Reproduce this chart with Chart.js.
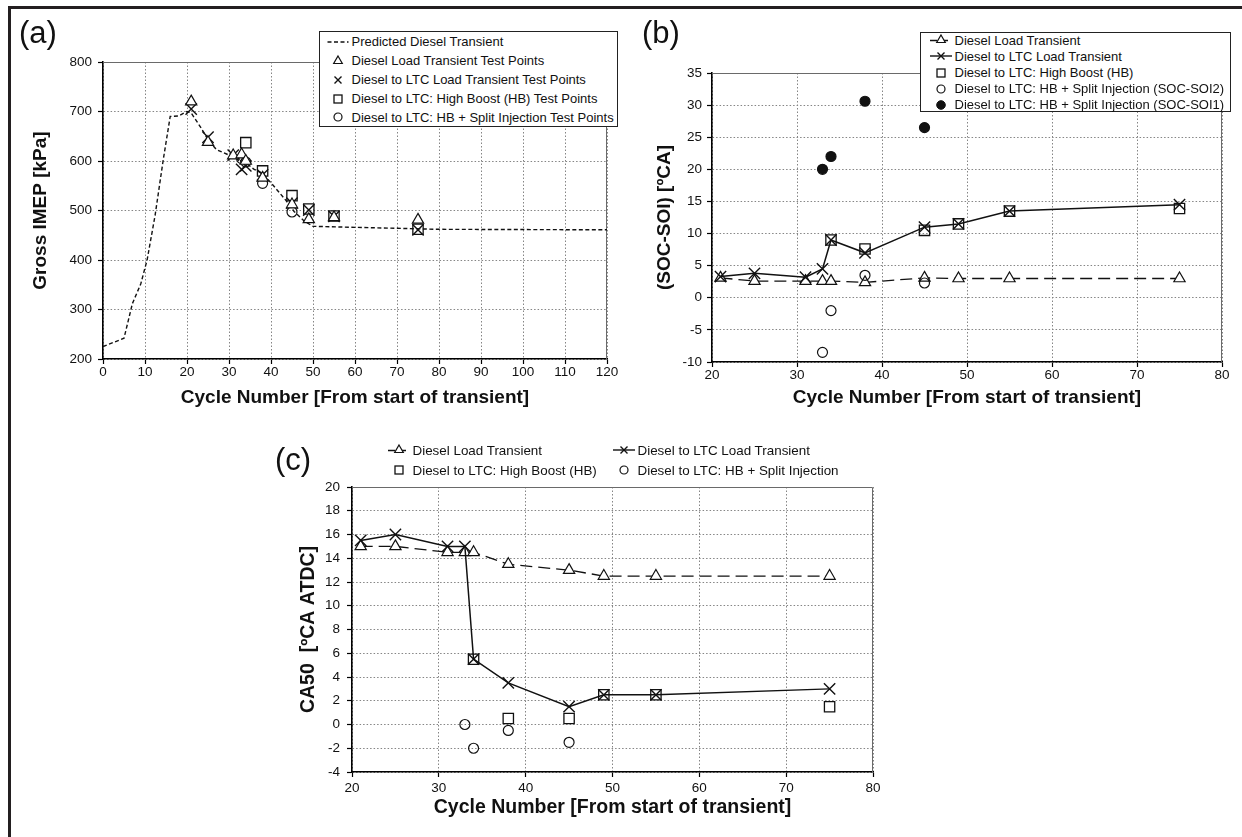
<!DOCTYPE html>
<html>
<head>
<meta charset="utf-8">
<script src="https://cdn.jsdelivr.net/npm/chart.js@4.4.1/dist/chart.umd.min.js"></script>
<style>
  body { margin: 0; background: #fff; font-family: "Liberation Sans", Arial, sans-serif; }
  #page { position: relative; width: 1242px; height: 837px; overflow: hidden; background: #fff; }
  #frame { position: absolute; left: 8px; top: 6px; width: 1240px; height: 840px;
           border-top: 3px solid #231f20; border-left: 3px solid #231f20; }
  canvas { position: absolute; }
  .tag { position: absolute; font-size: 31px; line-height: 31px; color: #111; }
  .legend { position: absolute; background: #fff; border: 1.4px solid #222; box-sizing: border-box; }
  .row { position: absolute; display: flex; align-items: center; height: 16px;
         font-size: 13px; color: #111; white-space: nowrap; }
  #legC .row { font-size: 13.4px; }
  .row svg { flex: none; margin-right: 1.5px; }
</style>
</head>
<body>
<div id="page">
  <div id="frame"></div>
  <canvas id="chartA" width="620" height="420" style="left:0;top:0"></canvas>
  <canvas id="chartB" width="622" height="420" style="left:620px;top:0"></canvas>
  <canvas id="chartC" width="620" height="417" style="left:270px;top:420px"></canvas>
  <div class="tag" style="left:19px;top:17px">(a)</div>
  <div class="tag" style="left:642px;top:17px">(b)</div>
  <div class="tag" style="left:275px;top:444px">(c)</div>
  <div class="legend" id="legA" style="left:319px;top:31px;width:299px;height:96px"></div>
  <div class="legend" id="legB" style="left:920px;top:32px;width:311px;height:80px"></div>
  <div id="legC"></div>
</div>
<script>
// ---- data ----
// (a) predicted diesel transient (dashed line)
const predCycle = [0, 5, 7, 9, 10.5, 12.4, 14.3, 16, 18, 20, 21, 23.5, 25, 27, 30, 32, 34, 36, 38, 40.5, 43.5, 45.5, 48, 50, 60, 80, 120];
const predImep  = [225, 242, 312, 352, 400, 490, 600, 690, 691, 700, 697, 665, 643, 623, 612, 606, 596, 583, 575, 551, 521, 498, 478, 468, 466, 462, 461];

// cycle numbers of the test points
const testCycles  = [21, 25, 31, 33, 34, 38, 45, 49, 55, 75];
const hbCycles    = [34, 38, 45, 49, 55, 75];
const splitCycles = [33, 34, 38, 45];

// (a) Gross IMEP [kPa]
const imepDiesel = [720, 638, 611, 613, 600, 566, 512, 482, 486, 481];
const imepLtc    = [705, 648, 612, 583, 590, 572, 515, 501, 488, 461];
const imepHb     = [637, 580, 530, 503, 489, 462];
const imepSplit  = [605, 598, 555, 497];

// (b) SOC-SOI [deg CA]
const socDiesel = [3.1, 2.6, 2.6, 2.6, 2.6, 2.4, 3.1, 3.0, 3.0, 3.0];
const socLtc    = [3.3, 3.8, 3.2, 4.5, 9.0, 7.0, 11.0, 11.5, 13.5, 14.5];
const socHb     = [9.0, 7.6, 10.5, 11.5, 13.5, 13.9];
const socSoi2   = [-8.5, -2.0, 3.5, 2.3];
const socSoi1   = [20.0, 22.0, 30.6, 26.5];

// (c) CA50 [deg CA ATDC]
const ca50Diesel = [15.0, 15.0, 14.5, 14.5, 14.5, 13.5, 13.0, 12.5, 12.5, 12.5];
const ca50Ltc    = [15.5, 16.0, 15.0, 15.0, 5.5, 3.5, 1.5, 2.5, 2.5, 3.0];
const ca50Hb     = [5.5, 0.5, 0.5, 2.5, 2.5, 1.5];
const ca50Split  = [0.0, -2.0, -0.5, -1.5];

// axis ranges [min, max, step]
const cycleRangeA = [0, 120, 10];
const cycleRangeBC = [20, 80, 10];
const imepRange = [200, 800, 100];
const socRange = [-10, 35, 5];
const ca50Range = [-4, 20, 2];

// legend texts
const legendA = [
  ['dash', 'Predicted Diesel Transient'],
  ['tri', 'Diesel Load Transient Test Points'],
  ['x', 'Diesel to LTC Load Transient Test Points'],
  ['sq', 'Diesel to LTC: High Boost (HB) Test Points'],
  ['circ', 'Diesel to LTC: HB + Split Injection Test Points']
];
const legendB = [
  ['lineTri', 'Diesel Load Transient'],
  ['lineX', 'Diesel to LTC Load Transient'],
  ['sq', 'Diesel to LTC: High Boost (HB)'],
  ['circ', 'Diesel to LTC: HB + Split Injection (SOC-SOI2)'],
  ['dot', 'Diesel to LTC: HB + Split Injection (SOC-SOI1)']
];
const legendC = [
  ['lineTri', 'Diesel Load Transient'],
  ['lineX', 'Diesel to LTC Load Transient'],
  ['sq', 'Diesel to LTC: High Boost (HB)'],
  ['circ', 'Diesel to LTC: HB + Split Injection']
];

const INK = '#111';
const FONT = '"Liberation Sans", Arial, sans-serif';

const pts = (xs, ys) => xs.map((x, i) => ({ x: x, y: ys[i] }));

// markers
const tri = (data, line) => ({
  data, pointStyle: 'triangle', pointRadius: 6.5, pointBorderWidth: 1.2,
  pointBorderColor: INK, pointBackgroundColor: '#fff',
  showLine: !!line, borderColor: INK, borderWidth: 1.3, borderDash: [12, 6]
});
const cross = (data, line) => ({
  data, pointStyle: 'crossRot', pointRadius: 8, pointBorderWidth: 1.4,
  pointBorderColor: INK, showLine: !!line, borderColor: INK, borderWidth: 1.5
});
const square = data => ({
  data, pointStyle: 'rect', pointRadius: 7.3, pointBorderWidth: 1.3,
  pointBorderColor: INK, pointBackgroundColor: 'rgba(0,0,0,0)', showLine: false
});
const circle = (data, filled) => ({
  data, pointStyle: 'circle', pointRadius: 5, pointBorderWidth: 1.2,
  pointBorderColor: INK, pointBackgroundColor: filled ? INK : 'rgba(255,255,255,0)', showLine: false
});

// thin solid frame on top and right of the plot area
const plotFrame = {
  id: 'plotFrame',
  beforeDatasetsDraw(chart) {
    const { ctx, chartArea: a } = chart;
    ctx.save();
    ctx.strokeStyle = '#6a6a6a';
    ctx.lineWidth = 1;
    ctx.beginPath();
    ctx.moveTo(a.left, Math.round(a.top) + 0.5);
    ctx.lineTo(Math.round(a.right) - 0.5, Math.round(a.top) + 0.5);
    ctx.lineTo(Math.round(a.right) - 0.5, a.bottom);
    ctx.stroke();
    ctx.restore();
  }
};

function axis(range, title, box) {
  return {
    type: 'linear', min: range[0], max: range[1],
    ticks: { stepSize: range[2], autoSkip: false, maxRotation: 0, color: INK,
             padding: box.tickPad, font: { family: FONT, size: 13.5 } },
    grid: { color: '#858585', lineWidth: 1, tickLength: 5, tickColor: '#000',
            tickWidth: 1.2, tickBorderDash: [] },
    border: { color: '#000', width: 1.6, dash: [1.5, 2] },
    title: { display: true, text: title, color: INK, padding: box.titlePad,
             font: { family: FONT, size: box.titleSize, weight: 'bold', lineHeight: 1.2 } },
    afterFit: box.fit
  };
}

function panel(id, geo, xRange, yRange, yTitle, datasets) {
  return new Chart(document.getElementById(id), {
    type: 'line',
    data: { datasets },
    options: {
      responsive: false, animation: false,
      layout: { padding: { left: 0, top: geo.top, right: geo.right, bottom: 0 } },
      elements: { line: { tension: 0 } },
      plugins: { legend: { display: false }, tooltip: { enabled: false } },
      scales: {
        x: axis(xRange, 'Cycle Number [From start of transient]',
                 { tickPad: geo.xTickPad, titleSize: geo.titleSize, titlePad: { top: 0, bottom: geo.xTitlePad },
                   fit: s => { s.height = geo.xh; } }),
        y: axis(yRange, yTitle,
                 { tickPad: geo.yTickPad, titleSize: geo.titleSize, titlePad: { top: geo.yTitlePad, bottom: 0 },
                   fit: s => { s.width = geo.yw; } })
      }
    },
    plugins: [plotFrame]
  });
}

// (a)
panel('chartA', { top: 62, right: 13, yw: 103, xh: 61, xTickPad: 0, xTitlePad: 10.6, yTitlePad: 29.5, yTickPad: 6, titleSize: 19 },
  cycleRangeA, imepRange, 'Gross IMEP [kPa]', [
    tri(pts(testCycles, imepDiesel)),
    cross(pts(testCycles, imepLtc)),
    square(pts(hbCycles, imepHb)),
    circle(pts(splitCycles, imepSplit)),
    { data: pts(predCycle, predImep), pointRadius: 0, borderColor: INK, borderWidth: 1.4, borderDash: [4, 2.5] }
  ]);

// (b)
panel('chartB', { top: 73, right: 20, yw: 92, xh: 58, xTickPad: 0, xTitlePad: 10.6, yTitlePad: 33.6, yTickPad: 5, titleSize: 19 },
  cycleRangeBC, socRange, '(SOC-SOI) [ºCA]', [
    cross(pts(testCycles, socLtc), true),
    square(pts(hbCycles, socHb)),
    circle(pts(splitCycles, socSoi2)),
    circle(pts(splitCycles, socSoi1), true),
    tri(pts(testCycles, socDiesel), true)
  ]);

// (c)
panel('chartC', { top: 67, right: 17, yw: 82, xh: 65, xTickPad: 3, xTitlePad: 17.3, yTitlePad: 27.3, yTickPad: 7, titleSize: 19.5 },
  cycleRangeBC, ca50Range, 'CA50  [ºCA ATDC]', [
    cross(pts(testCycles, ca50Ltc), true),
    square(pts(hbCycles, ca50Hb)),
    circle(pts(splitCycles, ca50Split)),
    tri(pts(testCycles, ca50Diesel), true)
  ]);

// ---- legends ----
const S = 'stroke="#111" fill="none"';
const SYM = {
  dash: `<line x1="1.5" y1="8" x2="22.5" y2="8" ${S} stroke-width="1.4" stroke-dasharray="4 2.5"/>`,
  tri: `<polygon points="12,3 16.3,10.5 7.7,10.5" stroke="#111" fill="#fff" stroke-width="1.2"/>`,
  x: `<path d="M8.5,4.5 L15.5,11.5 M15.5,4.5 L8.5,11.5" ${S} stroke-width="1.4"/>`,
  sq: `<rect x="8" y="4" width="8" height="8" ${S} stroke-width="1.3"/>`,
  circ: `<circle cx="12" cy="8" r="4" ${S} stroke-width="1.2"/>`,
  dot: `<circle cx="12" cy="8" r="4.3" fill="#111" stroke="#111" stroke-width="1"/>`,
  lineTri: `<line x1="1" y1="8.5" x2="23" y2="8.5" ${S} stroke-width="1.3" stroke-dasharray="7 4"/>` +
           `<polygon points="12,3 16.3,10.5 7.7,10.5" stroke="#111" fill="#fff" stroke-width="1.2"/>`,
  lineX: `<line x1="1" y1="8" x2="23" y2="8" ${S} stroke-width="1.4"/>` +
         `<path d="M8.5,4.5 L15.5,11.5 M15.5,4.5 L8.5,11.5" ${S} stroke-width="1.4"/>`
};

function addRow(parent, x, yc, item) {
  const row = document.createElement('div');
  row.className = 'row';
  row.style.left = x + 'px';
  row.style.top = (yc - 8) + 'px';
  row.innerHTML = `<svg width="24" height="16" viewBox="0 0 24 16">${SYM[item[0]]}</svg><span>${item[1]}</span>`;
  parent.appendChild(row);
}

const legA = document.getElementById('legA');
[9.5, 28.5, 47.5, 66.5, 85].forEach((y, i) => addRow(legA, 6, y, legendA[i]));

const legB = document.getElementById('legB');
[7, 23, 39.5, 55.5, 71.5].forEach((y, i) => addRow(legB, 8, y, legendB[i]));

const legC = document.getElementById('legC');
addRow(legC, 387, 450, legendC[0]);
addRow(legC, 612, 450, legendC[1]);
addRow(legC, 387, 470, legendC[2]);
addRow(legC, 612, 470, legendC[3]);
</script>
</body>
</html>
